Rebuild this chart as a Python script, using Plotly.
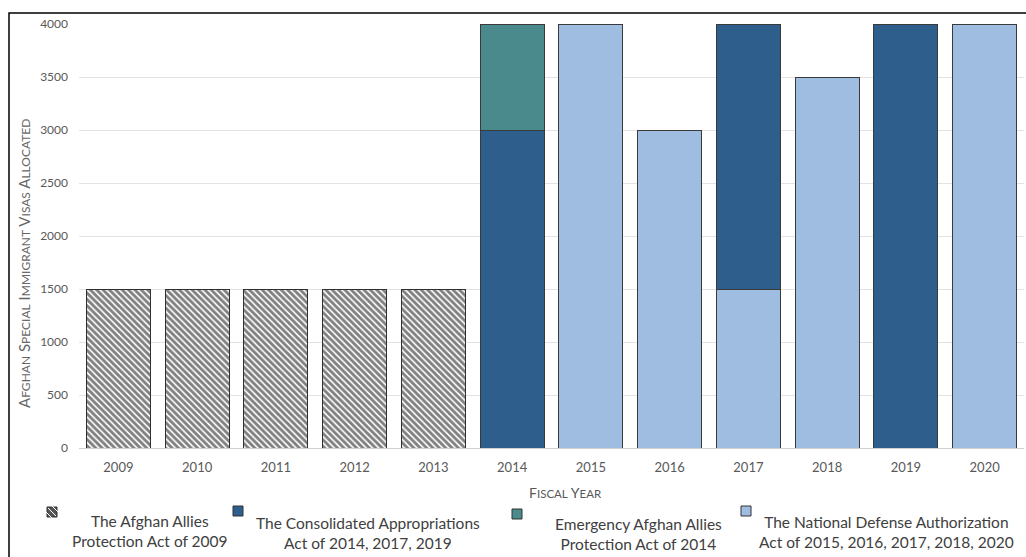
import plotly.graph_objects as go

years = ["2009", "2010", "2011", "2012", "2013", "2014", "2015", "2016", "2017", "2018", "2019", "2020"]

aapa_years = ["2009", "2010", "2011", "2012", "2013"]
aapa_vals = [1500, 1500, 1500, 1500, 1500]

ndaa_years = ["2015", "2016", "2017", "2018", "2020"]
ndaa_vals = [4000, 3000, 1500, 3500, 4000]

cons_years = ["2014", "2017", "2019"]
cons_vals = [3000, 2500, 4000]

emerg_years = ["2014"]
emerg_vals = [1000]

legend_labels = [
    "The Afghan Allies<br>Protection Act of 2009",
    "The Consolidated Appropriations<br>Act of 2014, 2017, 2019",
    "Emergency Afghan Allies<br>Protection Act of 2014",
    "The National Defense Authorization<br>Act of 2015, 2016, 2017, 2018, 2020",
]

C_DARK = "#2E5F8C"
C_TEAL = "#4A8A8C"
C_LIGHT = "#9EBDE0"
EDGE = "#3A3A3A"
TXT = "#595959"

fig = go.Figure()
fig.add_trace(go.Bar(
    x=aapa_years, y=aapa_vals, name=legend_labels[0],
    marker=dict(color="white", line=dict(color="#303030", width=1),
                pattern=dict(shape="\\", fgcolor="black", bgcolor="white", size=4.5, solidity=0.62)),
))
fig.add_trace(go.Bar(x=ndaa_years, y=ndaa_vals, name=legend_labels[3],
                     marker=dict(color=C_LIGHT, line=dict(color=EDGE, width=1))))
fig.add_trace(go.Bar(x=cons_years, y=cons_vals, name=legend_labels[1],
                     marker=dict(color=C_DARK, line=dict(color=EDGE, width=1))))
fig.add_trace(go.Bar(x=emerg_years, y=emerg_vals, name=legend_labels[2],
                     marker=dict(color=C_TEAL, line=dict(color=EDGE, width=1))))

W, H = 1026, 557
L, R, T, B = 79, 2, 24, 109
pw, ph = W - L - R, H - T - B

def px(x):
    return (x - L) / pw

def py(y):
    return (H - B - y) / ph

def smallcaps(s, small=11):
    out = []
    for word in s.split(" "):
        out.append(word[0] + "<span style='font-size:%gpx'>%s</span>" % (small, word[1:].upper()))
    return " ".join(out)

annotations = []
annotations.append(dict(
    x=px(24), y=py(264), xref="paper", yref="paper", textangle=-90, showarrow=False,
    text=smallcaps("Afghan Special Immigrant Visas Allocated", 12),
    font=dict(family="Lato", size=15, color="#666666"), xanchor="center", yanchor="middle"))
annotations.append(dict(
    x=px(565), y=py(492), xref="paper", yref="paper", showarrow=False,
    text=smallcaps("Fiscal Year", 11.5),
    font=dict(family="Lato", size=14, color=TXT), xanchor="center", yanchor="middle"))

legend_centers = [150, 368, 638, 886]
legend_cy = [531, 533, 534, 532]
for lab, cx, cy in zip(legend_labels, legend_centers, legend_cy):
    annotations.append(dict(
        x=px(cx), y=py(cy), xref="paper", yref="paper", showarrow=False, text=lab,
        align="center", font=dict(family="Lato", size=15.5, color="#404040"),
        xanchor="center", yanchor="middle"))

shapes = []
# outer frame
shapes.append(dict(type="rect", xref="paper", yref="paper",
                   x0=px(9), x1=px(1030), y0=py(560), y1=py(13),
                   line=dict(color="black", width=1.5), fillcolor="rgba(0,0,0,0)", layer="below"))
# legend symbols
marks = [(52, 512, "#555555"), (238, 511, C_DARK), (517, 514, C_TEAL), (746, 511, C_LIGHT)]
for i, (mx, my, col) in enumerate(marks):
    shapes.append(dict(type="rect", xref="paper", yref="paper",
                       x0=px(mx - 5), x1=px(mx + 5), y0=py(my + 5), y1=py(my - 5),
                       line=dict(color="#333333", width=1), fillcolor=col))
    if i == 0:
        for d in (-3, 0, 3):
            shapes.append(dict(type="line", xref="paper", yref="paper",
                               x0=px(mx - 4 + d), y0=py(my - 4 - d), x1=px(mx + 4 + d), y1=py(my + 4 - d),
                               line=dict(color="white", width=1)))

fig.update_layout(
    width=W, height=H,
    margin=dict(l=L, r=R, t=T, b=B),
    barmode="stack", bargap=0.19,
    plot_bgcolor="white", paper_bgcolor="white",
    showlegend=False,
    annotations=annotations, shapes=shapes,
    font=dict(family="Lato", color=TXT),
)
fig.update_xaxes(
    type="category", categoryorder="array", categoryarray=years,
    showline=True, linecolor="#D0D0D0", linewidth=1,
    tickfont=dict(family="Lato", size=13, color=TXT), ticks="", ticklabelstandoff=7,
)
fig.update_yaxes(
    range=[0, 4000], dtick=500, showgrid=True, gridcolor="#E3E3E3", gridwidth=1,
    zeroline=False, tickfont=dict(family="Lato", size=12, color=TXT),
    ticks="", ticklabelstandoff=10,
)

fig.write_html("out.html")
